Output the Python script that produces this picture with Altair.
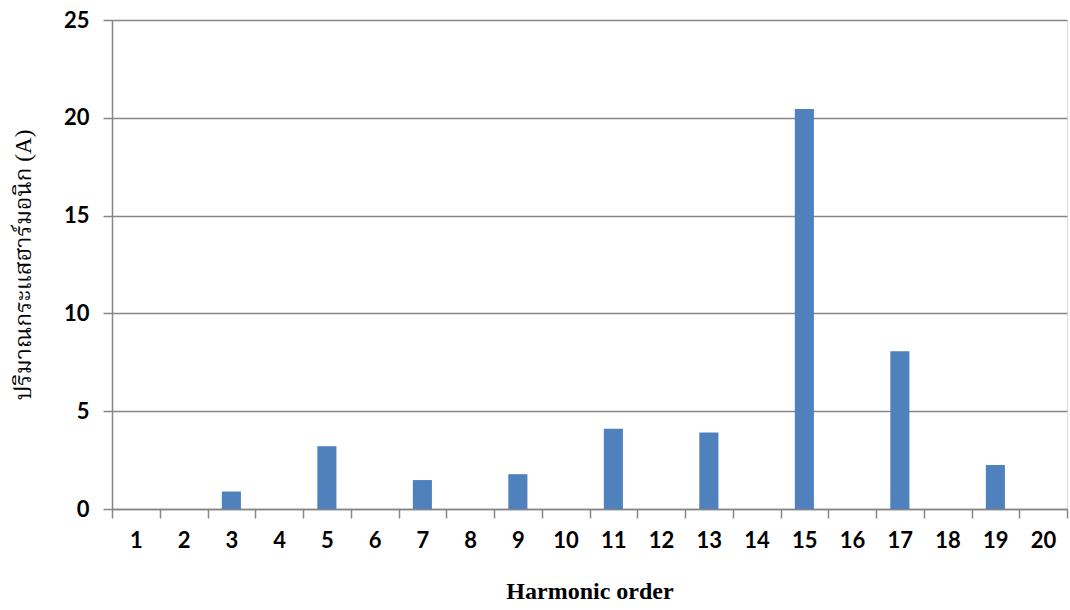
import altair as alt
import pandas as pd

# Harmonic orders 1..20 and measured harmonic current (A)
orders = [str(i) for i in range(1, 21)]
currents = [0, 0, 0.89, 0, 3.21, 0, 1.48, 0, 1.78, 0,
            4.10, 0, 3.91, 0, 20.45, 0, 8.07, 0, 2.25, 0]
y_ticks = [0, 5, 10, 15, 20, 25]

df = pd.DataFrame({"order": orders, "current": currents})

W, H = 955, 489
AXIS_GREY = "#868686"

bars = alt.Chart(df).mark_bar(color="#4F81BD", width=alt.RelativeBandSize(0.4)).encode(
    x=alt.X(
        "order:N",
        sort=orders,
        scale=alt.Scale(paddingInner=0, paddingOuter=0),
        axis=alt.Axis(
            title="Harmonic order",
            titleFont="Liberation Serif",
            titleFontSize=24,
            titleFontWeight="bold",
            titleColor="#000000",
            titlePadding=28,
            labelAngle=0,
            labelFont="Lato",
            labelFontSize=22,
            labelFontWeight="bold",
            labelColor="#000000",
            labelPadding=12,
            tickBand="extent",
            tickSize=9,
            tickColor=AXIS_GREY,
            tickWidth=1.5,
            domainColor=AXIS_GREY,
            domainWidth=1.5,
            grid=False,
        ),
    ),
    y=alt.Y(
        "current:Q",
        scale=alt.Scale(domain=[0, 25], nice=False),
        axis=alt.Axis(
            values=y_ticks,
            title="ปริมาณกระแสฮาร์มอนิก (A)",
            titleFont="Liberation Serif, Noto Serif Thai, Noto Sans Thai, serif",
            titleFontSize=23,
            titleFontWeight="normal",
            titleColor="#000000",
            titlePadding=28,
            labelFont="Lato",
            labelFontSize=22,
            labelFontWeight="bold",
            labelColor="#000000",
            labelPadding=14,
            tickSize=9,
            tickColor=AXIS_GREY,
            tickWidth=1.5,
            domainColor=AXIS_GREY,
            domainWidth=1.5,
            grid=True,
            gridColor=AXIS_GREY,
            gridWidth=1.5,
        ),
    ),
)

chart = bars.properties(
    width=W,
    height=H,
    autosize=alt.AutoSizeParams(type="none"),
    padding={"left": 112, "top": 20, "right": 3, "bottom": 101},
).configure_view(stroke=None).configure(background="#ffffff")

chart.save("out.html", embed_options={"renderer": "svg", "actions": False})
